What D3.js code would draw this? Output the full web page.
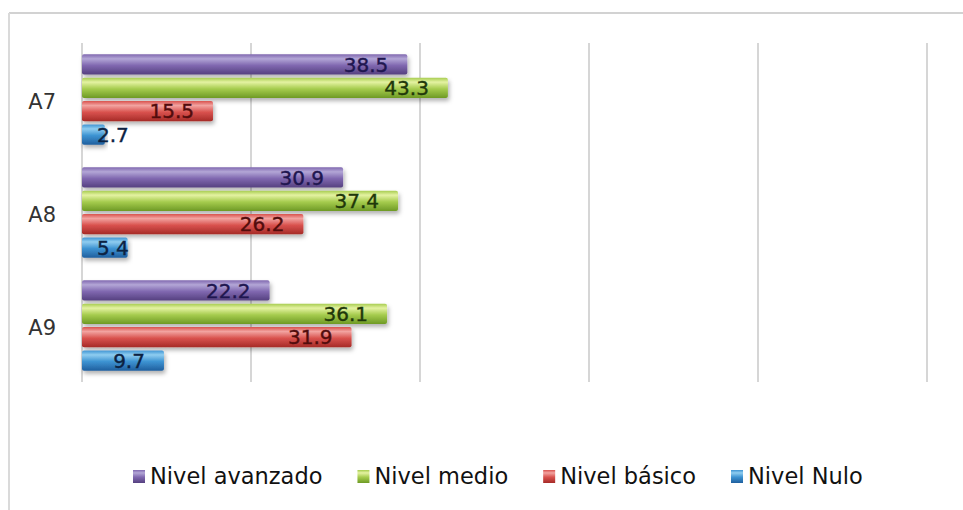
<!DOCTYPE html>
<html>
<head>
<meta charset="utf-8">
<script src="https://cdn.jsdelivr.net/npm/d3@7"></script>
<style>
  html, body { margin: 0; padding: 0; background: #ffffff; }
  svg { display: block; }
</style>
</head>
<body>
<svg id="chart" width="963" height="510"></svg>
<script>
// ---- data ----
const categories = ["A7", "A8", "A9"];
const seriesNames = ["Nivel avanzado", "Nivel medio", "Nivel básico", "Nivel Nulo"];
const avanzado = [38.5, 30.9, 22.2];
const medio = [43.3, 37.4, 36.1];
const basico = [15.5, 26.2, 31.9];
const nulo = [2.7, 5.4, 9.7];
const xTicks = [0, 20, 40, 60, 80, 100];

const seriesValues = [avanzado, medio, basico, nulo];
const palette = [
  { top: "#b3a6d6", mid: "#8068b0", bot: "#55407f", text: "#1f1650" },
  { top: "#e4f2a2", mid: "#a6cc4e", bot: "#6e9a25", text: "#1f380a" },
  { top: "#f2a3a0", mid: "#d9524e", bot: "#a52a27", text: "#520c0c" },
  { top: "#8fcdf0", mid: "#3d93d2", bot: "#1f5f9e", text: "#0c2242" }
];

const svg = d3.select("#chart");
const defs = svg.append("defs");

palette.forEach((p, i) => {
  const g = defs.append("linearGradient").attr("id", "grad" + i)
    .attr("x1", 0).attr("y1", 0).attr("x2", 0).attr("y2", 1);
  g.append("stop").attr("offset", "0%").attr("stop-color", p.mid);
  g.append("stop").attr("offset", "22%").attr("stop-color", p.top);
  g.append("stop").attr("offset", "55%").attr("stop-color", p.mid);
  g.append("stop").attr("offset", "100%").attr("stop-color", p.bot);
});
const f = defs.append("filter").attr("id", "shadow")
  .attr("x", "-5%").attr("y", "-30%").attr("width", "115%").attr("height", "180%");
f.append("feDropShadow").attr("dx", 1.5).attr("dy", 3).attr("stdDeviation", 2)
  .attr("flood-color", "#000").attr("flood-opacity", 0.3);

// frame
svg.append("line").attr("x1", 9).attr("x2", 963).attr("y1", 13).attr("y2", 13)
  .attr("stroke", "#d2d2d2").attr("stroke-width", 2);
svg.append("line").attr("x1", 9).attr("x2", 9).attr("y1", 13).attr("y2", 510)
  .attr("stroke", "#dadada").attr("stroke-width", 2);

// scales
const x = d3.scaleLinear().domain([0, 100]).range([82, 927]);
const y0 = d3.scaleBand().domain(categories).range([43, 382])
  .paddingInner(0.2).paddingOuter(0.1);
const y1 = d3.scaleBand().domain(d3.range(seriesNames.length))
  .range([0, y0.bandwidth()]).paddingInner(0.13);

// gridlines
svg.append("g").selectAll("line").data(xTicks).join("line")
  .attr("x1", d => x(d)).attr("x2", d => x(d))
  .attr("y1", 43).attr("y2", 382)
  .attr("stroke", "#c9c9c9").attr("stroke-width", 1.5);

// category axis labels
const yAxis = d3.axisLeft(y0).tickSize(0).tickPadding(0);
const ga = svg.append("g").attr("transform", "translate(56,0)").call(yAxis);
ga.select(".domain").remove();
ga.selectAll("text").attr("font-family", "DejaVu Sans, sans-serif")
  .attr("font-size", 21).attr("fill", "#333333").attr("dy", "0.45em");

// bars
const groups = svg.append("g").selectAll("g").data(categories).join("g")
  .attr("transform", c => `translate(0,${y0(c)})`);

const barData = (c, ci) => seriesValues.map((vals, si) => ({ si, v: vals[ci], c }));

groups.each(function (c, ci) {
  const g = d3.select(this);
  const data = barData(c, ci);
  g.selectAll("rect").data(data).join("rect")
    .attr("x", x(0))
    .attr("y", d => y1(d.si))
    .attr("width", d => x(d.v) - x(0))
    .attr("height", y1.bandwidth())
    .attr("rx", 2)
    .attr("fill", d => `url(#grad${d.si})`)
    .attr("filter", "url(#shadow)");
  g.selectAll("text").data(data).join("text")
    .attr("font-family", "DejaVu Sans, sans-serif")
    .attr("font-size", 20)
    .attr("fill", d => palette[d.si].text)
    .attr("stroke", d => palette[d.si].text)
    .attr("stroke-width", 0.4)
    .attr("y", d => y1(d.si) + y1.bandwidth() / 2)
    .attr("dy", "0.36em")
    .attr("text-anchor", "end")
    .text(d => d.v.toFixed(1))
    .attr("x", function (d) {
      const w = this.getComputedTextLength();
      return Math.max(x(d.v) - 19, x(0) + 15 + w);
    });
});

// legend
const legend = svg.append("g").attr("transform", "translate(0,476)");
let lx = 133;
seriesNames.forEach((name, i) => {
  legend.append("rect").attr("x", lx).attr("y", -6).attr("width", 12).attr("height", 13)
    .attr("fill", `url(#grad${i})`);
  const t = legend.append("text").attr("x", lx + 17).attr("y", 0).attr("dy", "0.36em")
    .attr("font-family", "DejaVu Sans, sans-serif").attr("font-size", 22.5)
    .attr("fill", "#111111").text(name);
  lx += 17 + t.node().getComputedTextLength() + 35;
});
</script>
</body>
</html>
